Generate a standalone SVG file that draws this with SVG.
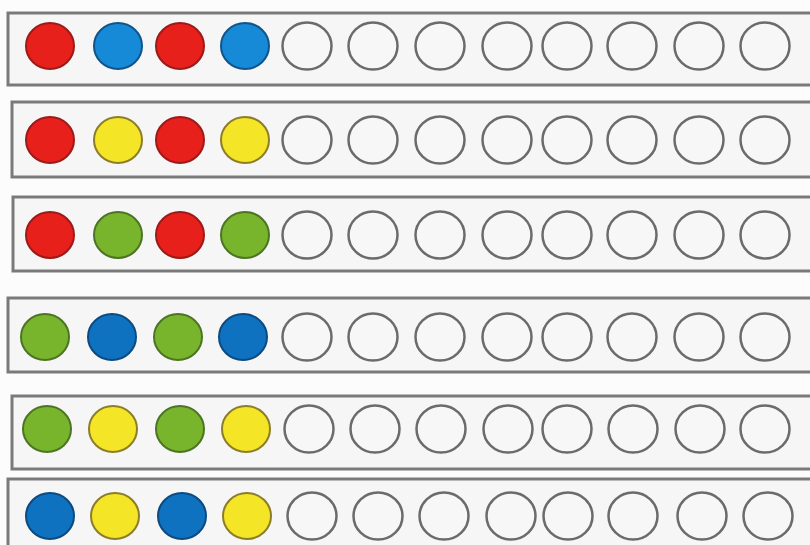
<svg xmlns="http://www.w3.org/2000/svg" width="810" height="545" viewBox="0 0 810 545">
<style>
.bar{fill:#f6f6f6;stroke:#7a7a7a;stroke-width:3}
.e{fill:#f7f7f7;stroke:#6b6b6b;stroke-width:2.5}
.r{fill:#e8201c;stroke:#9c1a18;stroke-width:2}
.b{fill:#168ad6;stroke:#10548a;stroke-width:2}
.bd{fill:#0f72c0;stroke:#0c4a80;stroke-width:2}
.y{fill:#f4e526;stroke:#8c7d2a;stroke-width:2}
.g{fill:#78b52c;stroke:#4c7424;stroke-width:2}
</style>
<rect width="810" height="545" fill="#fdfcfc"/>
<g id="row1">
<rect class="bar" x="8" y="13" width="810" height="72"/>
<ellipse class="r" cx="50" cy="46" rx="24" ry="23"/>
<ellipse class="b" cx="118" cy="46" rx="24" ry="23"/>
<ellipse class="r" cx="180" cy="46" rx="24" ry="23"/>
<ellipse class="b" cx="245" cy="46" rx="24" ry="23"/>
<ellipse class="e" cx="307" cy="46" rx="24.5" ry="23.5"/>
<ellipse class="e" cx="373" cy="46" rx="24.5" ry="23.5"/>
<ellipse class="e" cx="440" cy="46" rx="24.5" ry="23.5"/>
<ellipse class="e" cx="507" cy="46" rx="24.5" ry="23.5"/>
<ellipse class="e" cx="567" cy="46" rx="24.5" ry="23.5"/>
<ellipse class="e" cx="632" cy="46" rx="24.5" ry="23.5"/>
<ellipse class="e" cx="699" cy="46" rx="24.5" ry="23.5"/>
<ellipse class="e" cx="765" cy="46" rx="24.5" ry="23.5"/>
</g>
<g id="row2">
<rect class="bar" x="12" y="102" width="810" height="75"/>
<ellipse class="r" cx="50" cy="140" rx="24" ry="23"/>
<ellipse class="y" cx="118" cy="140" rx="24" ry="23"/>
<ellipse class="r" cx="180" cy="140" rx="24" ry="23"/>
<ellipse class="y" cx="245" cy="140" rx="24" ry="23"/>
<ellipse class="e" cx="307" cy="140" rx="24.5" ry="23.5"/>
<ellipse class="e" cx="373" cy="140" rx="24.5" ry="23.5"/>
<ellipse class="e" cx="440" cy="140" rx="24.5" ry="23.5"/>
<ellipse class="e" cx="507" cy="140" rx="24.5" ry="23.5"/>
<ellipse class="e" cx="567" cy="140" rx="24.5" ry="23.5"/>
<ellipse class="e" cx="632" cy="140" rx="24.5" ry="23.5"/>
<ellipse class="e" cx="699" cy="140" rx="24.5" ry="23.5"/>
<ellipse class="e" cx="765" cy="140" rx="24.5" ry="23.5"/>
</g>
<g id="row3">
<rect class="bar" x="13" y="197" width="810" height="74"/>
<ellipse class="r" cx="50" cy="235" rx="24" ry="23"/>
<ellipse class="g" cx="118" cy="235" rx="24" ry="23"/>
<ellipse class="r" cx="180" cy="235" rx="24" ry="23"/>
<ellipse class="g" cx="245" cy="235" rx="24" ry="23"/>
<ellipse class="e" cx="307" cy="235" rx="24.5" ry="23.5"/>
<ellipse class="e" cx="373" cy="235" rx="24.5" ry="23.5"/>
<ellipse class="e" cx="440" cy="235" rx="24.5" ry="23.5"/>
<ellipse class="e" cx="507" cy="235" rx="24.5" ry="23.5"/>
<ellipse class="e" cx="567" cy="235" rx="24.5" ry="23.5"/>
<ellipse class="e" cx="632" cy="235" rx="24.5" ry="23.5"/>
<ellipse class="e" cx="699" cy="235" rx="24.5" ry="23.5"/>
<ellipse class="e" cx="765" cy="235" rx="24.5" ry="23.5"/>
</g>
<g id="row4">
<rect class="bar" x="8" y="298" width="810" height="74"/>
<ellipse class="g" cx="45" cy="337" rx="24" ry="23"/>
<ellipse class="bd" cx="112" cy="337" rx="24" ry="23"/>
<ellipse class="g" cx="178" cy="337" rx="24" ry="23"/>
<ellipse class="bd" cx="243" cy="337" rx="24" ry="23"/>
<ellipse class="e" cx="307" cy="337" rx="24.5" ry="23.5"/>
<ellipse class="e" cx="373" cy="337" rx="24.5" ry="23.5"/>
<ellipse class="e" cx="440" cy="337" rx="24.5" ry="23.5"/>
<ellipse class="e" cx="507" cy="337" rx="24.5" ry="23.5"/>
<ellipse class="e" cx="567" cy="337" rx="24.5" ry="23.5"/>
<ellipse class="e" cx="632" cy="337" rx="24.5" ry="23.5"/>
<ellipse class="e" cx="699" cy="337" rx="24.5" ry="23.5"/>
<ellipse class="e" cx="765" cy="337" rx="24.5" ry="23.5"/>
</g>
<g id="row5">
<rect class="bar" x="12" y="396" width="810" height="73"/>
<ellipse class="g" cx="47" cy="429" rx="24" ry="23"/>
<ellipse class="y" cx="113" cy="429" rx="24" ry="23"/>
<ellipse class="g" cx="180" cy="429" rx="24" ry="23"/>
<ellipse class="y" cx="246" cy="429" rx="24" ry="23"/>
<ellipse class="e" cx="309" cy="429" rx="24.5" ry="23.5"/>
<ellipse class="e" cx="375" cy="429" rx="24.5" ry="23.5"/>
<ellipse class="e" cx="441" cy="429" rx="24.5" ry="23.5"/>
<ellipse class="e" cx="508" cy="429" rx="24.5" ry="23.5"/>
<ellipse class="e" cx="567" cy="429" rx="24.5" ry="23.5"/>
<ellipse class="e" cx="633" cy="429" rx="24.5" ry="23.5"/>
<ellipse class="e" cx="700" cy="429" rx="24.5" ry="23.5"/>
<ellipse class="e" cx="765" cy="429" rx="24.5" ry="23.5"/>
</g>
<g id="row6">
<rect class="bar" x="8" y="479" width="810" height="80"/>
<ellipse class="bd" cx="50" cy="516" rx="24" ry="23"/>
<ellipse class="y" cx="115" cy="516" rx="24" ry="23"/>
<ellipse class="bd" cx="182" cy="516" rx="24" ry="23"/>
<ellipse class="y" cx="247" cy="516" rx="24" ry="23"/>
<ellipse class="e" cx="312" cy="516" rx="24.5" ry="23.5"/>
<ellipse class="e" cx="378" cy="516" rx="24.5" ry="23.5"/>
<ellipse class="e" cx="444" cy="516" rx="24.5" ry="23.5"/>
<ellipse class="e" cx="511" cy="516" rx="24.5" ry="23.5"/>
<ellipse class="e" cx="568" cy="516" rx="24.5" ry="23.5"/>
<ellipse class="e" cx="633" cy="516" rx="24.5" ry="23.5"/>
<ellipse class="e" cx="702" cy="516" rx="24.5" ry="23.5"/>
<ellipse class="e" cx="768" cy="516" rx="24.5" ry="23.5"/>
</g>
</svg>
